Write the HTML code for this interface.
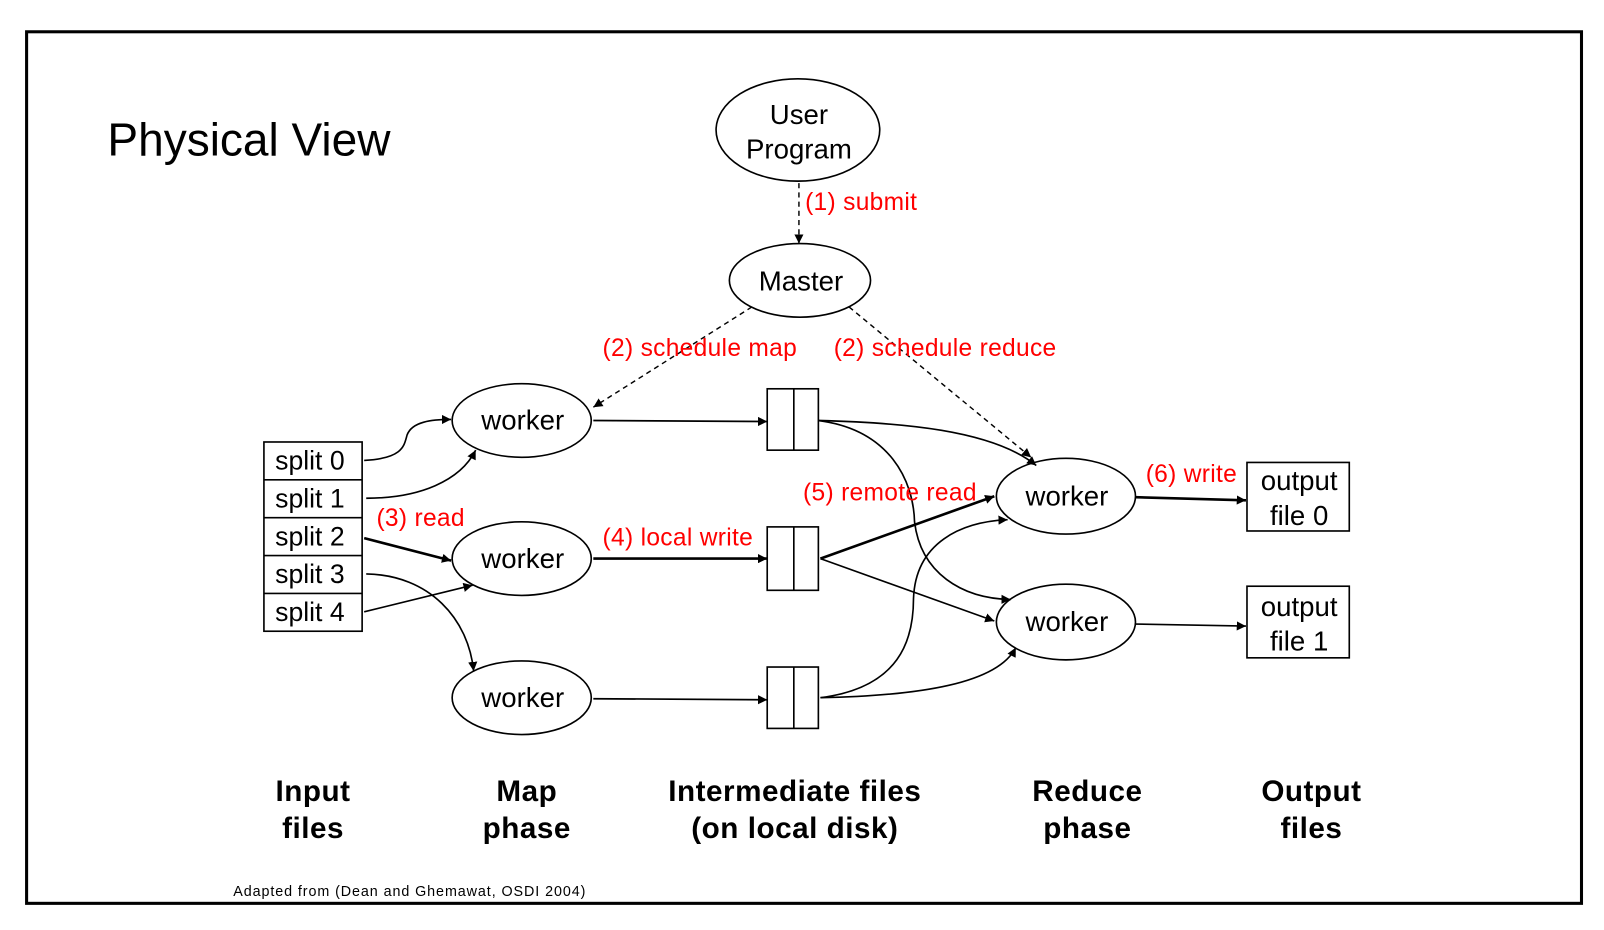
<!DOCTYPE html>
<html><head><meta charset="utf-8"><style>
html,body{margin:0;padding:0;background:#fff;}
svg{display:block;}
text{font-family:"Liberation Sans",Arial,sans-serif;}
</style></head><body>
<svg width="1604" height="930" viewBox="0 0 1568 909" xmlns="http://www.w3.org/2000/svg">
<defs>
<marker id="a" viewBox="0 0 10 10" refX="10" refY="5" markerWidth="9" markerHeight="9" markerUnits="userSpaceOnUse" orient="auto"><path d="M0,0 L10,5 L0,10 z" fill="#000"/></marker>
</defs>
<rect x="0" y="0" width="1568" height="909" fill="#fff"/>
<rect x="26" y="31" width="1520" height="852" fill="none" stroke="#000" stroke-width="3"/>
<text x="105" y="152" font-size="45">Physical View</text>

<g fill="none" stroke="#000" stroke-width="1.6">
<ellipse cx="780" cy="127" rx="80" ry="50"/>
<ellipse cx="782" cy="274" rx="69" ry="36"/>
<ellipse cx="510" cy="411" rx="68" ry="36"/>
<ellipse cx="510" cy="546" rx="68" ry="36"/>
<ellipse cx="510" cy="682" rx="68" ry="36"/>
<ellipse cx="1042" cy="485" rx="68" ry="37"/>
<ellipse cx="1042" cy="608" rx="68" ry="37"/>
<rect x="258" y="432" width="96" height="185"/>
<line x1="258" y1="469" x2="354" y2="469"/>
<line x1="258" y1="506" x2="354" y2="506"/>
<line x1="258" y1="543" x2="354" y2="543"/>
<line x1="258" y1="580" x2="354" y2="580"/>
<rect x="750" y="380" width="50" height="60"/><line x1="776" y1="380" x2="776" y2="440"/>
<rect x="750" y="515" width="50" height="62"/><line x1="776" y1="515" x2="776" y2="577"/>
<rect x="750" y="652" width="50" height="60"/><line x1="776" y1="652" x2="776" y2="712"/>
<rect x="1219" y="452" width="100" height="67"/>
<rect x="1219" y="573" width="100" height="70"/>
</g>

<g fill="none" stroke="#000" stroke-width="1.4" stroke-dasharray="5,4">
<line x1="781" y1="179" x2="781" y2="238" marker-end="url(#a)"/>
<line x1="735" y1="300" x2="580" y2="398" marker-end="url(#a)"/>
<line x1="830" y1="300" x2="1008" y2="447" marker-end="url(#a)"/>
</g>

<g fill="none" stroke="#000" stroke-width="1.6">
<path d="M356,450 C395,448 395,435 398,425 C403,412 422,410 441,410" marker-end="url(#a)"/>
<path d="M358,487 C410,487 450,470 465,440" marker-end="url(#a)"/>
<path d="M356,526 L441,548" stroke-width="2.6" marker-end="url(#a)"/>
<path d="M358,561 C420,562 458,605 463,656" marker-end="url(#a)"/>
<path d="M356,598 L462,572" marker-end="url(#a)"/>
<line x1="580" y1="411" x2="750" y2="412" marker-end="url(#a)"/>
<line x1="580" y1="546" x2="750" y2="546" stroke-width="2.6" marker-end="url(#a)"/>
<line x1="580" y1="683" x2="750" y2="684" marker-end="url(#a)"/>
<path d="M800,411 C880,413 970,420 1013,455" marker-end="url(#a)"/>
<path d="M800,411 C870,420 893,470 894,510 C900,560 940,585 988,586" marker-end="url(#a)"/>
<path d="M802,546 L972,485" stroke-width="2.6" marker-end="url(#a)"/>
<path d="M802,546 L972,607" marker-end="url(#a)"/>
<path d="M802,682 C880,672 893,625 893,585 C895,530 940,510 985,508" marker-end="url(#a)"/>
<path d="M802,682 C900,680 975,668 993,633" marker-end="url(#a)"/>
<line x1="1110" y1="486" x2="1218" y2="489" stroke-width="2.6" marker-end="url(#a)"/>
<line x1="1110" y1="610" x2="1218" y2="612" marker-end="url(#a)"/>
</g>

<g font-size="27" text-anchor="middle" fill="#000">
<text x="781" y="121">User</text>
<text x="781" y="155">Program</text>
<text x="783" y="284">Master</text>
<text x="511" y="420">worker</text>
<text x="511" y="555">worker</text>
<text x="511" y="691">worker</text>
<text x="1043" y="494">worker</text>
<text x="1043" y="617">worker</text>
<text x="1270" y="479">output</text>
<text x="1270" y="513">file 0</text>
<text x="1270" y="602">output</text>
<text x="1270" y="636">file 1</text>
</g>
<g font-size="26" fill="#000">
<text x="269" y="459">split 0</text>
<text x="269" y="496">split 1</text>
<text x="269" y="533">split 2</text>
<text x="269" y="570">split 3</text>
<text x="269" y="607">split 4</text>
</g>
<g font-size="24" fill="#ff0000" letter-spacing="0.3">
<text x="787" y="205">(1) submit</text>
<text x="589" y="348">(2) schedule map</text>
<text x="815" y="348">(2) schedule reduce</text>
<text x="368" y="514">(3) read</text>
<text x="589" y="533">(4) local write</text>
<text x="785" y="489">(5) remote read</text>
<text x="1120" y="471">(6) write</text>
</g>
<g font-size="29" font-weight="bold" text-anchor="middle" fill="#000" letter-spacing="0.5">
<text x="306" y="783">Input</text><text x="306" y="819">files</text>
<text x="515" y="783">Map</text><text x="515" y="819">phase</text>
<text x="777" y="783">Intermediate files</text><text x="777" y="819">(on local disk)</text>
<text x="1063" y="783">Reduce</text><text x="1063" y="819">phase</text>
<text x="1282" y="783">Output</text><text x="1282" y="819">files</text>
</g>
<text x="228" y="876" font-size="14" letter-spacing="0.9">Adapted from (Dean and Ghemawat, OSDI 2004)</text>
</svg>
</body></html>
